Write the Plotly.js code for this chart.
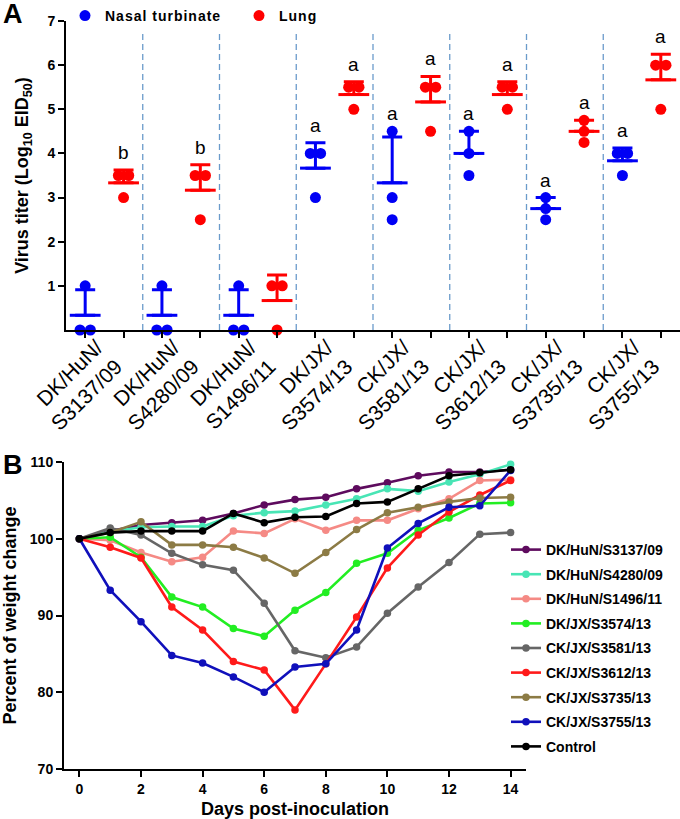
<!DOCTYPE html>
<html><head><meta charset="utf-8">
<script src="https://cdn.plot.ly/plotly-3.0.1.min.js"></script>
<style>html,body{margin:0;padding:0;background:#fff}#chart{width:680px;height:819px}</style>
</head><body><div id="chart"></div>
<script>
// ---------- Panel A data ----------
const strainLabels = ['DK/HuN/<br>S3137/09','DK/HuN/<br>S4280/09','DK/HuN/<br>S1496/11','DK/JX/<br>S3574/13','CK/JX/<br>S3581/13','CK/JX/<br>S3612/13','CK/JX/<br>S3735/13','CK/JX/<br>S3755/13'];
const nasalTiters = [[1,0,0],[1,0,0],[1,0,0],[4,4,3],[4.5,3,2.5],[4.5,4,3.5],[3,2.75,2.5],[4,4,3.5]];
const lungTiters  = [[3.5,3.5,3],[3.5,3.5,2.5],[1,1,0],[5.5,5.5,5],[5.5,5.5,4.5],[5.5,5.5,5],[4.75,4.5,4.25],[6,6,5]];
const nasalLetters = ['','','','a','a','a','a','a'];
const lungLetters  = ['b','b','','a','a','a','a','a'];

// ---------- Panel B data ----------
const days = [0,1,2,3,4,5,6,7,8,9,10,11,12,13,14];
const seriesNames = ['DK/HuN/S3137/09','DK/HuN/S4280/09','DK/HuN/S1496/11','DK/JX/S3574/13','CK/JX/S3581/13','CK/JX/S3612/13','CK/JX/S3735/13','CK/JX/S3755/13','Control'];
const wS3137 = [100,101.0,101.8,102.1,102.4,103.3,104.4,105.1,105.4,106.5,107.3,108.2,108.7,108.7,109.0];
const wS4280 = [100,100.9,101.5,101.6,101.6,103.0,103.4,103.6,104.4,105.2,106.5,106.2,107.4,108.4,109.7];
const wS1496 = [100,99.8,98.2,97.0,97.6,101.0,100.7,102.6,101.1,102.4,102.4,103.9,105.2,107.6,107.7];
const wS3574 = [100,100.2,97.6,92.4,91.1,88.3,87.3,90.7,93.0,96.8,98.1,101.1,102.7,104.6,104.7];
const wS3581 = [100,101.4,100.5,98.1,96.6,95.9,91.6,85.4,84.5,85.9,90.3,93.7,96.9,100.6,100.8];
const wS3612 = [100,98.9,97.5,91.1,88.1,84.0,82.9,77.7,83.7,89.8,96.2,100.5,103.5,105.7,107.6];
const wS3735 = [100,100.8,102.2,99.2,99.2,98.9,97.5,95.5,98.2,101.2,103.4,104.1,104.8,105.3,105.4];
const wS3755 = [100,93.3,89.2,84.8,83.8,82.0,80.0,83.3,83.7,88.1,98.8,102.0,104.1,104.3,108.9];
const wControl = [100,100.8,101.0,101.0,101.0,103.3,102.1,102.8,102.9,104.6,104.8,106.5,108.2,108.6,109.0];
const seriesColors = ['#5E0B5E','#48E5B5','#F58A85','#22EE22','#666666','#FF1A1A','#8C7B45','#1010BB','#000000'];

// ---------- helpers ----------
const FONT = 'Liberation Sans, Arial, sans-serif';
const BLUE = '#0000F5', RED = '#FF0000';
function mean(a){return a.reduce((s,v)=>s+v,0)/a.length;}
function sd(a){const m=mean(a);return Math.sqrt(a.reduce((s,v)=>s+(v-m)*(v-m),0)/(a.length-1));}
function spread(vals, pos){
  const out=[];
  vals.forEach((v,i)=>{
    const same = vals.filter(w=>w===v).length;
    const idx = vals.slice(0,i).filter(w=>w===v).length;
    out.push(pos + (idx-(same-1)/2)*0.27);
  });
  return out;
}

const traces = [];
function tissueTraces(data, offset, color, name, letters){
  const px=[], py=[], mx=[], my=[], me=[];
  data.forEach((vals,g)=>{
    const pos = 2*g+offset;
    spread(vals,pos).forEach((x,k)=>{px.push(x); py.push(vals[k]);});
    mx.push(pos); my.push(mean(vals)); me.push(sd(vals));
  });
  traces.push({type:'scatter',mode:'markers',x:px,y:py,name:name,legend:'legend',
    marker:{color:color,size:11},xaxis:'x',yaxis:'y',cliponaxis:false,hoverinfo:'y'});
  traces.push({type:'scatter',mode:'markers',x:mx,y:my,showlegend:false,xaxis:'x',yaxis:'y',
    marker:{symbol:'line-ew',size:22,line:{color:color,width:3}},
    error_y:{type:'data',symmetric:false,array:me,arrayminus:me.map(()=>0),color:color,thickness:3,width:10},
    cliponaxis:true});
  return data.map((vals,g)=>({pos:2*g+offset, top:Math.max(Math.max(...vals), mean(vals)+sd(vals)), letter:letters[g]}));
}
const nasalTops = tissueTraces(nasalTiters,0,BLUE,'Nasal turbinate',nasalLetters);
const lungTops  = tissueTraces(lungTiters,1,RED,'Lung',lungLetters);
traces.push({type:'scatter',x:[],y:[],xaxis:'x3',yaxis:'y',showlegend:false});

const weightSeries=[wS3137,wS4280,wS1496,wS3574,wS3581,wS3612,wS3735,wS3755,wControl];
weightSeries.forEach((ys,i)=>{
  traces.push({type:'scatter',mode:'lines+markers',x:days,y:ys,name:seriesNames[i],
    xaxis:'x2',yaxis:'y2',legend:'legend2',legendgroup:'g'+i,
    line:{color:seriesColors[i],width:2.6},marker:{color:seriesColors[i],size:7.5},cliponaxis:false});
});

const annotations=[];
[...nasalTops,...lungTops].forEach(t=>{
  if(!t.letter) return;
  annotations.push({xref:'x',yref:'y',x:t.pos,y:t.top,text:t.letter,showarrow:false,
    yanchor:'bottom',yshift:5,font:{family:FONT,size:19,color:'#000'}});
});
annotations.push({xref:'paper',yref:'paper',x:0.002,y:1.004,xanchor:'left',yanchor:'top',text:'A',showarrow:false,
  font:{family:FONT,size:27,weight:700,color:'#000'}});
annotations.push({xref:'paper',yref:'paper',x:0.002,y:0.4525,xanchor:'left',yanchor:'top',text:'B',showarrow:false,
  font:{family:FONT,size:27,weight:700,color:'#000'}});

const shapes=[];
for(let g=0; g<strainLabels.length-1; g++){
  shapes.push({type:'line',xref:'x',yref:'y',x0:2*g+1.5,x1:2*g+1.5,y0:0,y1:6.73,
    line:{color:'#6B9BCB',width:1.3,dash:'6px,4px'}});
}

const axisCommon={showgrid:false,zeroline:false,showline:true,linecolor:'#000',linewidth:2,
  ticks:'outside',ticklen:6,tickwidth:2,tickcolor:'#000',automargin:false};

const layout={
  width:680,height:819,margin:{l:0,r:0,t:0,b:0},paper_bgcolor:'#fff',plot_bgcolor:'rgba(0,0,0,0)',
  font:{family:FONT,color:'#000'},
  xaxis:Object.assign({},axisCommon,{domain:[66/680,1],anchor:'y',range:[-0.5,15.5],
    tickvals:Array.from({length:16},(_,i)=>i),showticklabels:false}),
  xaxis3:{overlaying:'x',anchor:'y',range:[-0.5,15.5],showgrid:false,zeroline:false,showline:false,ticks:'',
    tickvals:strainLabels.map((_,g)=>2*g+0.3),ticktext:strainLabels,tickangle:-45,
    tickfont:{family:FONT,size:21,color:'#000'},automargin:false},
  yaxis:Object.assign({},axisCommon,{domain:[1-330/819,1-21/819],anchor:'x',range:[0,7],
    tickvals:[1,2,3,4,5,6,7],tickfont:{family:FONT,size:14,weight:700},
    title:{text:'Virus titer (Log<sub>10</sub> EID<sub>50</sub>)',font:{family:FONT,size:18,weight:700},standoff:14}}),
  xaxis2:Object.assign({},axisCommon,{domain:[64/680,526/680],anchor:'y2',range:[-0.5,14.5],
    tickvals:[0,2,4,6,8,10,12,14],tickfont:{family:FONT,size:14,weight:700},
    title:{text:'Days post-inoculation',font:{family:FONT,size:18,weight:700},standoff:8}}),
  yaxis2:Object.assign({},axisCommon,{domain:[1-769/819,1-462/819],anchor:'x2',range:[70,110],
    tickvals:[70,80,90,100,110],tickfont:{family:FONT,size:14,weight:700},
    title:{text:'Percent of weight change',font:{family:FONT,size:18,weight:700},standoff:12}}),
  legend:{orientation:'h',x:65/680,y:1.0,xanchor:'left',yanchor:'top',bgcolor:'rgba(0,0,0,0)',
    font:{family:FONT,size:14,weight:700},entrywidth:129,entrywidthmode:'pixels'},
  legend2:{orientation:'v',x:506/680,y:1-534/819,xanchor:'left',yanchor:'top',bgcolor:'rgba(0,0,0,0)',
    font:{family:FONT,size:14,weight:700},tracegroupgap:3.4},
  annotations:annotations,shapes:shapes,showlegend:true
};
Plotly.newPlot('chart',traces,layout,{staticPlot:true}).then(()=>{
  // GraphPad-style wide letter spacing of category labels and legend entries
  document.querySelectorAll('.xtick text').forEach(t=>{
    if(t.textContent.indexOf('/')>=0) t.style.letterSpacing='1.8px';
  });
  document.querySelectorAll('.legendtext').forEach(t=>{ t.style.letterSpacing='1px'; });
});
</script></body></html>
